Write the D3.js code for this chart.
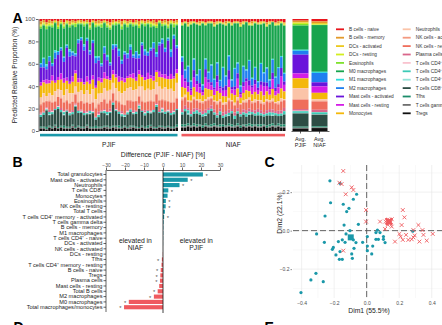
<!DOCTYPE html>
<html>
<head>
<meta charset="utf-8">
<script src="https://cdn.jsdelivr.net/npm/d3@7"></script>
<style>
body { margin: 0; background: #fff; }
svg { display: block; font-family: "Liberation Sans", Arial, sans-serif; }
</style>
</head>
<body>
<svg id="canvas" width="442" height="325"></svg>
<script>
// cell types in legend order (top of the stack first)
var cellTypes = ["B cells - naive", "B cells - memory", "DCs - activated", "DCs - resting",
	"Eosinophils", "M0 macrophages", "M1 macrophages", "M2 macrophages",
	"Mast cells - activated", "Mast cells - resting", "Monocytes", "Neutrophils",
	"NK cells - activated", "NK cells - resting", "Plasma cells",
	"T cells CD4\u207A memory - activated", "T cells CD4\u207A memory - resting",
	"T cells CD4\u207A naive", "T cells CD8\u207A", "Tfhs", "T cells gamma delta", "Tregs"];

var cellColors = ["#e8151c", "#e39a2a", "#ecc91e", "#d3ee1f", "#7fe22e", "#17a44d",
	"#2edcdc", "#1f7ff0", "#6a14db", "#d41de6", "#f4b80a", "#fbc4a8",
	"#f39a80", "#ef6e5c", "#d9668b", "#f9c3cf", "#3ccab6", "#92e2d8",
	"#2c4d44", "#1c8c6a", "#6f6f6f", "#101010"];

// per-sample proportions (%), same order as cellTypes
var pjifSamples = [
	[2,3,1,1,2,32,1,3,14,3,11,6,1,7,1,1,2,0,9,1,1,2],
	[1,2,1,1,1,30,1,8,12,2,10,8,1,8,1,0,2,0,11,1,1,2],
	[3,2,1,1,3,34,2,3,10,4,12,5,0,6,1,1,1,0,16,2,1,1],
	[1,3,0,2,1,28,1,4,18,3,9,7,1,8,2,0,2,1,10,1,1,3],
	[2,2,1,1,2,34,1,2,9,5,14,6,1,7,1,1,2,0,12,1,1,2],
	[1,1,1,0,1,26,2,6,21,2,8,9,1,6,1,0,1,0,14,1,2,3],
	[2,4,1,1,2,22,1,3,22,3,9,8,0,8,1,1,2,0,18,1,1,2],
	[1,2,0,1,1,22,1,2,22,6,10,7,1,9,2,0,2,0,13,1,1,3],
	[3,2,1,1,2,27,1,4,16,4,12,6,1,7,1,1,2,1,10,2,1,2],
	[1,1,1,1,1,19,1,2,28,3,8,10,1,8,1,0,1,0,14,1,1,2],
	[2,3,1,0,2,21,2,5,24,2,9,9,1,7,1,1,2,0,11,1,1,2],
	[1,2,1,1,1,25,1,3,20,5,11,8,0,8,2,0,2,0,10,1,2,3],
	[2,2,0,1,3,26,1,2,14,3,13,7,1,9,1,1,1,0,20,1,1,2],
	[1,1,1,1,1,14,1,3,33,4,9,9,1,7,1,0,2,0,12,1,1,3],
	[1,2,1,0,1,12,1,2,36,3,8,10,0,8,1,1,1,0,13,1,1,2],
	[2,1,1,1,2,17,2,4,30,2,9,8,1,7,2,0,2,0,11,1,1,2],
	[1,2,0,1,1,13,1,2,34,5,8,11,1,8,1,1,1,0,10,1,2,3],
	[3,3,1,1,2,20,1,3,25,3,10,9,0,6,1,0,2,1,12,1,1,2],
	[1,1,1,0,1,16,1,2,31,4,9,12,1,7,1,1,1,0,13,1,1,2],
	[2,2,1,1,2,28,2,5,22,2,11,8,1,8,1,0,2,0,6,2,1,2],
	[1,3,1,1,1,28,1,3,16,3,12,9,1,7,2,1,2,0,9,1,1,2],
	[2,2,0,1,3,33,1,2,11,4,10,8,0,8,1,0,1,0,13,1,1,2],
	[1,1,1,0,1,22,1,6,18,6,9,10,1,9,1,1,2,0,12,1,1,3],
	[2,2,1,1,2,26,2,3,15,3,11,11,1,7,1,0,2,1,10,1,2,2],
	[3,3,1,1,2,31,1,2,12,2,9,9,1,8,2,1,1,0,13,1,1,2],
	[1,2,1,1,1,18,1,4,20,4,8,10,0,8,1,0,2,0,20,1,1,3],
	[2,1,0,1,2,18,1,2,26,3,10,11,1,7,1,1,1,0,14,1,2,2],
	[1,2,1,0,1,23,2,5,19,5,9,9,1,8,1,0,2,0,11,2,1,2],
	[2,3,1,1,3,29,1,3,13,3,12,10,1,6,2,1,2,0,10,1,1,2],
	[1,1,1,1,1,25,1,2,22,4,8,13,0,8,1,0,1,1,8,1,1,3],
	[2,2,1,1,2,25,1,4,17,2,10,11,1,9,1,1,2,0,12,1,1,2],
	[1,2,0,1,1,19,2,3,23,3,9,12,1,7,1,0,2,0,13,1,2,2],
	[3,1,1,0,2,27,1,2,15,5,11,10,1,8,2,1,1,0,11,1,1,3],
	[1,2,1,1,1,24,1,6,18,3,8,11,0,9,1,0,2,0,12,1,1,2],
	[2,3,1,1,2,26,1,3,12,4,12,9,1,7,1,1,2,1,18,1,1,2],
	[1,1,1,1,1,17,1,2,28,2,9,13,1,8,1,0,1,0,13,1,1,3],
	[2,2,0,1,2,22,2,4,21,3,10,11,1,7,2,1,2,0,11,1,1,2],
	[1,2,1,0,1,26,1,3,16,6,9,12,0,8,1,0,2,0,12,2,1,2],
	[2,1,1,1,3,20,1,2,24,3,11,10,1,9,1,1,1,0,11,1,2,3],
	[1,3,1,1,1,15,1,5,27,4,8,11,1,7,1,0,2,0,14,1,1,2],
	[3,2,1,1,2,24,2,3,13,2,10,12,1,8,1,1,2,0,20,1,1,2],
	[1,1,0,1,1,18,1,2,25,5,9,13,0,9,2,0,1,0,12,1,1,3],
	[2,2,1,0,2,12,1,4,30,3,11,10,1,7,1,1,2,1,13,1,2,2],
	[1,2,1,1,1,21,1,3,21,4,8,12,1,9,1,0,2,0,12,1,1,2],
	[2,3,1,1,2,9,1,2,34,3,10,11,1,7,1,1,1,0,13,1,1,3],
	[1,1,1,1,1,24,2,5,16,5,9,13,0,8,2,0,2,0,11,1,1,2],
	[2,2,0,1,3,7,1,3,36,2,12,10,1,7,1,1,2,0,12,1,1,2],
	[1,2,1,1,1,19,1,2,20,4,9,14,1,9,1,0,1,0,14,2,1,3]
];

var niafSamples = [
	[3,1,1,1,0,28,1,4,12,11,9,2,1,8,3,0,2,0,9,2,1,3],
	[2,1,0,1,0,42,1,7,3,6,6,2,1,7,3,0,2,0,12,2,1,3],
	[3,2,1,1,0,36,1,14,4,5,8,1,0,6,2,0,3,1,8,2,1,4],
	[2,1,1,1,0,50,1,6,2,4,5,1,1,7,3,0,2,0,8,1,1,3],
	[2,1,0,1,0,33,1,10,7,9,9,2,1,8,3,0,2,0,9,2,1,4],
	[3,1,1,0,0,46,1,5,3,7,7,1,0,7,2,0,3,0,10,2,1,3],
	[2,2,1,1,0,40,1,12,4,5,6,2,1,6,3,0,2,0,9,1,1,4],
	[2,1,0,1,0,55,1,4,2,3,5,1,1,7,3,0,2,0,8,2,0,3],
	[3,1,1,1,0,31,1,9,8,10,10,2,0,8,3,0,2,1,7,2,1,4],
	[2,1,1,0,0,44,1,6,3,6,7,2,1,7,2,0,3,0,11,1,1,3],
	[2,1,0,1,0,37,1,15,3,4,6,1,1,6,3,0,2,0,12,2,1,3],
	[3,2,1,1,0,48,1,7,2,5,5,1,0,7,3,0,2,0,8,2,1,4],
	[2,1,1,1,0,34,1,11,6,8,9,2,1,8,2,0,2,0,7,1,1,3],
	[2,1,0,1,0,52,1,5,2,4,6,1,1,6,3,0,3,0,9,2,1,3],
	[3,1,1,0,0,39,1,18,3,5,6,2,0,7,3,0,2,0,6,2,0,4],
	[2,2,1,1,0,45,1,8,4,6,5,1,1,6,3,0,2,0,8,1,1,3],
	[2,1,0,1,0,30,1,13,9,7,10,2,1,8,3,0,2,1,7,2,1,4],
	[3,1,1,1,0,49,1,6,2,4,6,1,0,7,2,0,2,0,10,2,1,3],
	[2,1,1,0,0,41,1,16,3,5,7,2,1,6,3,0,3,0,6,1,1,3],
	[2,1,0,1,0,36,1,9,5,9,8,2,1,7,3,0,2,0,9,2,1,4],
	[3,2,1,1,0,53,1,5,2,3,5,1,0,7,2,0,2,0,8,2,0,3],
	[2,1,1,1,0,38,1,14,4,6,7,1,1,6,3,0,2,0,9,1,1,4],
	[2,1,0,0,0,43,1,7,3,8,8,2,1,7,3,0,3,0,7,2,1,3],
	[3,1,1,1,0,32,1,18,5,5,6,2,0,8,3,0,2,1,8,2,1,4],
	[2,2,1,1,0,47,1,6,2,6,6,1,1,6,2,0,2,0,9,2,1,3],
	[2,1,0,1,0,40,1,11,4,7,7,2,1,7,3,0,2,0,8,1,1,4],
	[3,1,1,0,0,51,1,5,2,4,5,1,0,7,3,0,3,0,8,2,1,3],
	[2,1,1,1,0,35,1,16,3,6,8,2,1,6,3,0,2,0,8,2,1,3],
	[2,1,0,1,0,44,1,8,4,8,6,1,1,7,2,0,2,0,7,1,1,4],
	[3,2,1,1,0,37,1,13,3,5,7,2,0,8,3,0,2,0,9,2,0,3],
	[2,1,1,1,0,50,1,6,2,5,5,1,1,6,3,0,3,0,8,2,1,3],
	[2,1,0,0,0,34,1,12,6,9,9,2,1,7,3,0,2,1,7,2,1,4],
	[3,1,1,1,0,46,1,9,3,4,6,1,0,7,2,0,2,0,9,1,1,3],
	[2,2,1,1,0,39,1,15,3,6,7,2,1,6,3,0,2,0,7,2,1,4],
	[2,1,0,1,0,30,1,10,8,11,9,2,1,8,3,0,2,0,8,2,1,3],
	[3,1,1,1,0,43,1,7,3,6,7,1,0,7,3,0,3,0,9,2,1,3]
];

// group means
var avgPjif = [1.5,1.5,0.5,1,1.5,22,1,3.5,17,4.5,9,10,0.5,8.5,1.5,0.5,1.5,0.5,12,1,1,2];
var avgNiaf = [2,1.5,1,0.5,0.2,40,1,8,3.5,5.5,5.5,1.5,0.5,7,2,0.2,1.5,0.5,10,1,0.5,2.5];
var avgLabels = ["PJIF", "NIAF"];
var yTicksA = [0, 20, 40, 60, 80, 100];

// panel B: mean difference PJIF - NIAF (%)
var diffLabels = ["Total granulocytes", "Mast cells - activated", "Neutrophils", "T cells CD8\u207A",
	"Monocytes", "Eosinophils", "NK cells - resting", "Total T cells",
	"T cells CD4\u207A memory - activated", "T cells gamma delta", "B cells - memory",
	"M1 macrophages", "T cells CD4\u207A - naive", "DCs - activated", "NK cells - activated",
	"DCs - resting", "Tfhs", "T cells CD4\u207A memory - resting", "B cells - naive", "Tregs",
	"Plasma cells", "Mast cells - resting", "Total B cells", "M2 macrophages",
	"M0 macrophages", "Total macrophages/monocytes"];
var diffValues = [21, 13, 8.7, 2.8, 2.4, 1.5, 1.4, 1.0, 0.6, 0.3, 0.2, 0.15, 0.1, 0.05, 0,
	-0.1, -0.6, -0.8, -1.2, -1.4, -1.6, -2, -2.8, -4.8, -18, -20.5];
var diffSignif = [1, 1, 1, 1, 0, 1, 1, 0, 1, 0, 0, 0, 0, 0, 0, 0, 1, 0, 1, 1, 1, 0, 1, 1, 1, 1];
var xTicksB = [-30, -20, -10, 0, 10, 20, 30];

// panel C: PCA scores
var pcaPjif = [[-0.226,0.259],[-0.164,0.246],[-0.222,0.145],[-0.144,0.137],[-0.082,0.163],
	[-0.062,0.189],[-0.109,0.116],[-0.123,0.099],[-0.256,0.076],[-0.139,0.029],[-0.051,0.033],
	[-0.308,-0.017],[-0.26,-0.061],[-0.205,-0.087],[-0.211,-0.097],[-0.174,-0.057],[-0.15,-0.048],
	[-0.127,-0.017],[-0.103,0],[-0.082,-0.048],[-0.066,-0.062],[-0.133,-0.061],[-0.164,-0.109],
	[-0.189,-0.126],[-0.168,-0.149],[-0.15,-0.149],[-0.092,-0.121],[-0.088,-0.144],[-0.078,-0.092],
	[-0.025,-0.061],[0.004,-0.031],[0.004,-0.08],[0.004,-0.104],[0.031,-0.121],[0.037,-0.08],
	[0.057,-0.01],[0.082,-0.01],[0.057,-0.045],[0.072,-0.045],[0.103,-0.031],[0.103,-0.045],
	[0.113,-0.062],[0.066,0.003],[-0.312,-0.222],[-0.343,-0.256],[-0.267,-0.265],[-0.404,-0.322],
	[0.283,-0.003]];
var pcaNiaf = [[-0.144,0.31],[-0.168,0.249],[-0.154,0.242],[-0.092,0.225],[-0.082,0.211],
	[-0.129,0.189],[-0.004,0.107],[-0.004,0.047],[0.082,0.047],[0.117,0.047],[0.125,0.055],
	[0.145,0.04],[0.113,0.009],[0.154,0.021],[0.154,0.059],[0.222,0.107],[0.232,0.069],
	[0.215,0.029],[0.201,-0.017],[0.209,-0.031],[0.222,-0.048],[0.174,-0.057],[0.287,-0.035],
	[0.277,-0.045],[0.295,-0.025],[0.318,0.029],[0.343,0.003],[0.349,-0.022],[0.369,-0.052],
	[0.324,-0.057],[0.287,0.003],[0.256,-0.048],[0.406,-0.017],[-0.144,-0.104],[0.242,-0.022],
	[0.13,0.03]];
var pjifMean = [-0.098, -0.035];
var niafMean = [0.137, 0.047];
var xTicksC = [-0.4, -0.2, 0, 0.2, 0.4];
var yTicksC = [-0.2, 0, 0.2];

var teal = "#1a98a9";
var red = "#ef5a5f";
var axisGrey = "#4d4d4d";

var svg = d3.select("#canvas");

function panelLabel(txt, x, y) {
	svg.append("text").attr("x", x).attr("y", y)
		.attr("font-size", 14).attr("font-weight", "bold").text(txt);
}

// ---------- A: stacked cell proportions ----------
var yA = d3.scaleLinear().domain([0, 100]).range([131, 19]);
var keys = d3.range(cellTypes.length);

function toRows(rows) {
	return rows.map(function (r) {
		var s = d3.sum(r);
		return r.map(function (v) { return v / s * 100; });
	});
}

var stack = d3.stack().keys(keys)
	.value(function (d, k) { return d[k]; })
	.order(d3.stackOrderReverse);

function drawStack(rows, xScale) {
	var series = stack(toRows(rows));
	svg.append("g").selectAll("g").data(series).enter()
		.append("g")
		.attr("fill", function (s) { return cellColors[s.key]; })
		.selectAll("rect").data(function (s) { return s; }).enter()
		.append("rect")
		.attr("x", function (d, i) { return xScale(i); })
		.attr("width", xScale.bandwidth())
		.attr("y", function (d) { return yA(d[1]); })
		.attr("height", function (d) { return Math.max(0, yA(d[0]) - yA(d[1])); });
}

var xP = d3.scaleBand().domain(d3.range(pjifSamples.length)).range([39.5, 178]).paddingInner(0.14);
var xN = d3.scaleBand().domain(d3.range(niafSamples.length)).range([181, 285.5]).paddingInner(0.14);
var xAvg = d3.scaleBand().domain([0, 1]).range([291, 329]).paddingInner(0.158).paddingOuter(0.079);

drawStack(pjifSamples, xP);
drawStack(niafSamples, xN);
drawStack([avgPjif, avgNiaf], xAvg);

var yAxisA = d3.axisLeft(yA).tickValues(yTicksA).tickSize(2.5).tickSizeOuter(0);
var gA = svg.append("g").attr("transform", "translate(38.5,0)").call(yAxisA);
gA.selectAll("text").attr("font-size", 6).attr("fill", axisGrey).attr("x", -3.5);
gA.selectAll("line, path").attr("stroke", "#222").attr("stroke-width", 0.7);

svg.append("text")
	.attr("transform", "translate(17,75) rotate(-90)")
	.attr("text-anchor", "middle").attr("font-size", 6.5).attr("fill", "#222")
	.text("Predicted Relative Proportion (%)");

// group bars under the samples
[[xP, teal, "PJIF"], [xN, red, "NIAF"]].forEach(function (g) {
	var r = g[0].range();
	svg.append("rect").attr("x", r[0] + 0.5).attr("y", 133.8)
		.attr("width", r[1] - r[0] - 1).attr("height", 2.6).attr("fill", g[1]);
	svg.append("text").attr("x", (r[0] + r[1]) / 2).attr("y", 146.5)
		.attr("text-anchor", "middle").attr("font-size", 6.5).attr("fill", "#222").text(g[2]);
});

// axis under the average bars
var avgAxis = svg.append("g").attr("transform", "translate(0,131)")
	.call(d3.axisBottom(xAvg).tickSize(2.5).tickSizeOuter(0).tickFormat(""));
avgAxis.selectAll("line, path").attr("stroke", "#222").attr("stroke-width", 0.7);
avgLabels.forEach(function (lab, i) {
	var cx = xAvg(i) + xAvg.bandwidth() / 2;
	var t = svg.append("text").attr("text-anchor", "middle").attr("font-size", 5.5).attr("fill", "#222");
	t.append("tspan").attr("x", cx).attr("y", 140.5).text("Avg.");
	t.append("tspan").attr("x", cx).attr("y", 146.5).text(lab);
});

// legend, two columns
var legend = svg.append("g").attr("font-size", 4.8).attr("fill", "#333");
cellTypes.forEach(function (name, i) {
	var col = Math.floor(i / 11), row = i % 11;
	var lx = col ? 402.7 : 336, ly = 29.3 + row * 8.4;
	legend.append("line").attr("x1", lx).attr("x2", lx + 8).attr("y1", ly).attr("y2", ly)
		.attr("stroke", cellColors[i]).attr("stroke-width", 1.8);
	legend.append("text").attr("x", lx + 13).attr("y", ly + 1.7).text(name);
});

panelLabel("A", 12.5, 23);

// ---------- B: differences ----------
var diffRows = diffLabels.map(function (lab, i) {
	return {label: lab, value: diffValues[i], signif: diffSignif[i]};
});
var xB = d3.scaleLinear().domain([-30, 30]).range([106, 220]);
var yB = d3.scaleBand().domain(diffLabels).range([172.4, 309.3]).paddingInner(0.22);

svg.append("g").selectAll("rect").data(diffRows).enter()
	.append("rect")
	.attr("x", function (d) { return xB(Math.min(0, d.value)); })
	.attr("y", function (d) { return yB(d.label); })
	.attr("width", function (d) { return Math.abs(xB(d.value) - xB(0)); })
	.attr("height", yB.bandwidth())
	.attr("fill", function (d) { return d.value >= 0 ? teal : red; });

svg.append("g").selectAll("text")
	.data(diffRows.filter(function (d) { return d.signif; })).enter()
	.append("text")
	.attr("x", function (d) { return d.value >= 0 ? xB(d.value) + 2.5 : xB(d.value) - 2.5; })
	.attr("y", function (d) { return yB(d.label) + yB.bandwidth() / 2 + 3.2; })
	.attr("text-anchor", function (d) { return d.value >= 0 ? "start" : "end"; })
	.attr("font-size", 5.8).attr("fill", "#555").text("*");

var xAxisB = svg.append("g").attr("transform", "translate(0,170)")
	.call(d3.axisTop(xB).tickValues(xTicksB).tickSize(2.5).tickSizeOuter(0));
xAxisB.selectAll("text").attr("font-size", 5).attr("fill", axisGrey).attr("y", -3.5);
xAxisB.selectAll("line, path").attr("stroke", "#222").attr("stroke-width", 0.7);

var yAxisB = svg.append("g").attr("transform", "translate(106,0)")
	.call(d3.axisLeft(yB).tickSize(2.5).tickSizeOuter(0));
yAxisB.select(".domain").attr("d", "M0,170V312");
yAxisB.selectAll("text").attr("font-size", 5.6).attr("fill", "#222").attr("x", -3.5);
yAxisB.selectAll("line, path").attr("stroke", "#222").attr("stroke-width", 0.7);

svg.append("line").attr("x1", xB(0)).attr("x2", xB(0)).attr("y1", 170).attr("y2", 313)
	.attr("stroke", "#111").attr("stroke-width", 0.8);

svg.append("text").attr("x", 163).attr("y", 157).attr("text-anchor", "middle")
	.attr("font-size", 6.8).attr("fill", "#222").text("Difference (PJIF - NIAF) [%]");

[[xB(-14.5), "NIAF"], [xB(17.5), "PJIF"]].forEach(function (e) {
	var t = svg.append("text").attr("text-anchor", "middle").attr("font-size", 6.8).attr("fill", "#222");
	t.append("tspan").attr("x", e[0]).attr("y", 243).text("elevated in");
	t.append("tspan").attr("x", e[0]).attr("y", 250).text(e[1]);
});

panelLabel("B", 12.5, 167);

// ---------- C: PCA ----------
var xC = d3.scaleLinear().domain([-0.453, 0.463]).range([293, 442]);
var yC = d3.scaleLinear().domain([-0.35, 0.341]).range([298, 165]);

var grid = svg.append("g").attr("fill", "none");
[-0.3, -0.1, 0.1, 0.3].forEach(function (v) {
	grid.append("line").attr("x1", xC(v)).attr("x2", xC(v)).attr("y1", 165).attr("y2", 298)
		.attr("stroke", "#f3f3f3").attr("stroke-width", 0.5);
	grid.append("line").attr("x1", 293).attr("x2", 442).attr("y1", yC(v)).attr("y2", yC(v))
		.attr("stroke", "#f3f3f3").attr("stroke-width", 0.5);
});
xTicksC.forEach(function (v) {
	grid.append("line").attr("x1", xC(v)).attr("x2", xC(v)).attr("y1", 165).attr("y2", 298)
		.attr("stroke", "#e6e6e6").attr("stroke-width", 0.6);
});
yTicksC.forEach(function (v) {
	grid.append("line").attr("x1", 293).attr("x2", 442).attr("y1", yC(v)).attr("y2", yC(v))
		.attr("stroke", "#e6e6e6").attr("stroke-width", 0.6);
});

svg.append("line").attr("x1", xC(0)).attr("x2", xC(0)).attr("y1", 165).attr("y2", 299)
	.attr("stroke", "#555").attr("stroke-width", 0.9).attr("stroke-dasharray", "6,3");
svg.append("line").attr("x1", 293).attr("x2", 442).attr("y1", yC(0)).attr("y2", yC(0))
	.attr("stroke", "#555").attr("stroke-width", 0.9).attr("stroke-dasharray", "6,3");

svg.append("g").selectAll("circle").data(pcaPjif).enter()
	.append("circle")
	.attr("cx", function (d) { return xC(d[0]); })
	.attr("cy", function (d) { return yC(d[1]); })
	.attr("r", 1.6).attr("fill", teal);

function crossPath(d, h) {
	var x = xC(d[0]), y = yC(d[1]);
	return "M" + (x - h) + "," + (y - h) + "L" + (x + h) + "," + (y + h) +
		"M" + (x - h) + "," + (y + h) + "L" + (x + h) + "," + (y - h);
}

svg.append("g").selectAll("path").data(pcaNiaf).enter()
	.append("path")
	.attr("d", function (d) { return crossPath(d, 1.9); })
	.attr("stroke", red).attr("stroke-width", 0.9).attr("fill", "none");

// group centroids
svg.append("rect").attr("x", xC(pjifMean[0]) - 3).attr("y", yC(pjifMean[1]) - 3)
	.attr("width", 6).attr("height", 6).attr("fill", teal);
svg.append("path").attr("d", crossPath(niafMean, 3.2))
	.attr("stroke", red).attr("stroke-width", 2.6).attr("fill", "none");
svg.append("circle").attr("cx", xC(niafMean[0])).attr("cy", yC(niafMean[1]))
	.attr("r", 2.6).attr("fill", red);

var xAxisC = svg.append("g").attr("transform", "translate(0,298)")
	.call(d3.axisBottom(xC).tickValues(xTicksC).tickSize(0).tickFormat(d3.format(".1f")));
xAxisC.select(".domain").remove();
xAxisC.selectAll("text").attr("font-size", 5).attr("fill", axisGrey).attr("y", 3.5);

var yAxisC = svg.append("g").attr("transform", "translate(292,0)")
	.call(d3.axisLeft(yC).tickValues(yTicksC).tickSize(1.5).tickFormat(d3.format(".1f")));
yAxisC.select(".domain").remove();
yAxisC.selectAll("line").attr("stroke", "#444").attr("stroke-width", 0.6);
yAxisC.selectAll("text").attr("font-size", 5).attr("fill", axisGrey).attr("x", -2.5);

svg.append("text").attr("x", 369).attr("y", 312.5).attr("text-anchor", "middle")
	.attr("font-size", 6.8).attr("fill", "#222").text("Dim1 (55.5%)");
svg.append("text").attr("transform", "translate(281.5,213) rotate(-90)")
	.attr("text-anchor", "middle").attr("font-size", 6.8).attr("fill", "#222").text("Dim2 (22.1%)");

panelLabel("C", 264.5, 167);

// next row of panels starts just below
panelLabel("D", 13.5, 331.5);
panelLabel("E", 264.5, 331.5);
</script>
</body>
</html>
